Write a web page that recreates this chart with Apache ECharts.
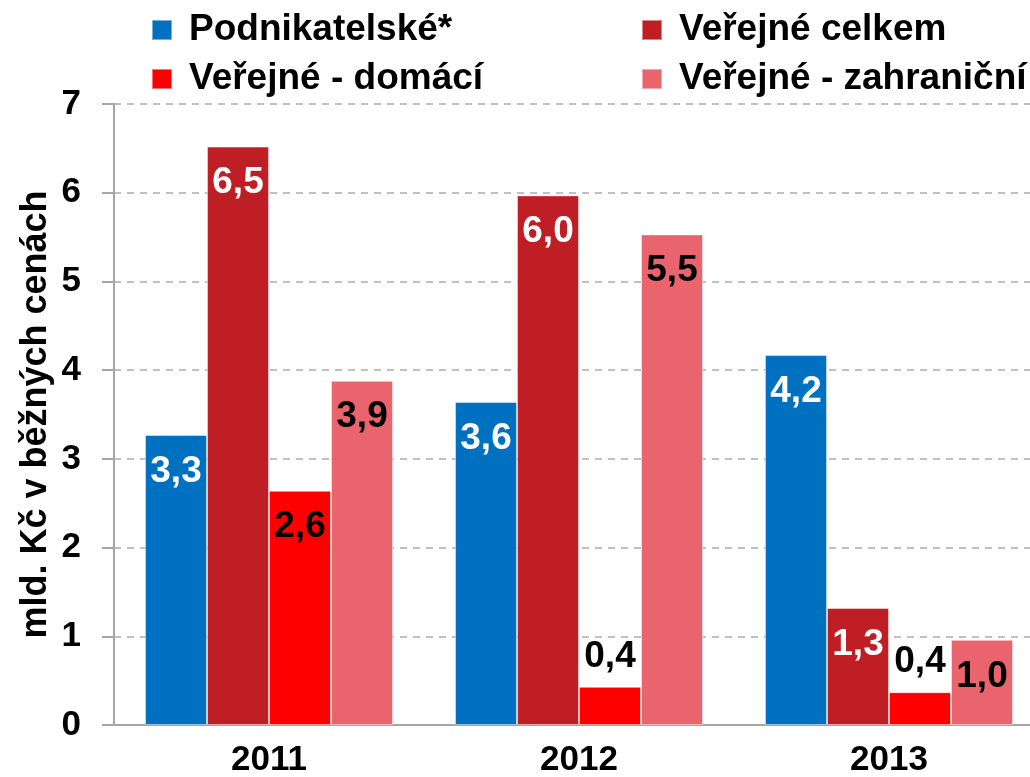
<!DOCTYPE html>
<html>
<head>
<meta charset="utf-8">
<script src="https://cdn.jsdelivr.net/npm/echarts@6/dist/echarts.min.js"></script>
<style>
  html, body { margin: 0; padding: 0; background: #fff; }
  #chart { width: 1030px; height: 777px; }
</style>
</head>
<body>
<div id="chart"></div>
<script>
  // data
  let years = ['2011', '2012', '2013'];
  let seriesNames = ['Podnikatelské*', 'Veřejné celkem', 'Veřejné - domácí', 'Veřejné - zahraniční'];
  let podnikatelske = [3.27, 3.64, 4.17];
  let verejneCelkem = [6.52, 5.97, 1.32];
  let verejneDomaci = [2.64, 0.43, 0.37];
  let verejneZahranicni = [3.88, 5.53, 0.96];
  let yTicks = [0, 1, 2, 3, 4, 5, 6, 7];

  let colors = ['#0070C0', '#BE1E24', '#FF0000', '#E9646C'];
  let labelColors = ['#fff', '#fff', '#000', '#000'];
  let font = '"Liberation Sans", Arial, sans-serif';

  let myChart = echarts.init(document.getElementById('chart'));

  function buildSeries(name, values, idx) {
    return {
      name: name,
      type: 'bar',
      barGap: 0,
      barCategoryGap: '20%',
      itemStyle: {
        color: colors[idx],
        borderColor: 'rgba(255,255,255,0.45)',
        borderWidth: 1
      },
      data: values.map(v => {
        let small = v < 0.5;
        return {
          value: v,
          label: {
            show: true,
            position: small ? 'top' : 'insideTop',
            distance: small ? 12 : 18,
            color: small ? '#000' : labelColors[idx],
            fontFamily: font,
            fontWeight: 'bold',
            fontSize: 37,
            formatter: p => p.value.toFixed(1).replace('.', ',')
          }
        };
      })
    };
  }

  function legendAt(name, left, top) {
    return {
      data: [name],
      left: left,
      top: top,
      orient: 'horizontal',
      itemWidth: 20,
      itemHeight: 20,
      icon: 'rect',
      selectedMode: false,
      textStyle: {
        fontFamily: font,
        fontWeight: 'bold',
        fontSize: 37,
        color: '#000',
        lineHeight: 38,
        padding: [0, 0, 0, 12]
      }
    };
  }

  let option = {
    animation: false,
    backgroundColor: '#fff',
    legend: [
      legendAt(seriesNames[0], 146, 6),
      legendAt(seriesNames[1], 636, 6),
      legendAt(seriesNames[2], 146, 55),
      legendAt(seriesNames[3], 636, 55)
    ],
    grid: {
      left: 114,
      right: -14,
      top: 104,
      bottom: 52,
      outerBoundsMode: 'none'
    },
    xAxis: {
      type: 'category',
      data: years,
      axisLine: { lineStyle: { color: '#A6A6A6', width: 2 } },
      axisTick: { show: false },
      axisLabel: {
        fontFamily: font,
        fontWeight: 'bold',
        fontSize: 35,
        color: '#000',
        margin: 18
      }
    },
    yAxis: {
      type: 'value',
      min: yTicks[0],
      max: yTicks[yTicks.length - 1],
      interval: 1,
      name: 'mld. Kč v běžných cenách',
      nameLocation: 'middle',
      nameGap: 60,
      nameMoveOverlap: false,
      nameTextStyle: {
        fontFamily: font,
        fontWeight: 'bold',
        fontSize: 36,
        color: '#000'
      },
      axisLine: { show: true, lineStyle: { color: '#A6A6A6', width: 2 } },
      axisTick: { show: true, length: 12, lineStyle: { color: '#A6A6A6', width: 2 } },
      axisLabel: {
        fontFamily: font,
        fontWeight: 'bold',
        fontSize: 35,
        color: '#000',
        margin: 33
      },
      splitLine: {
        lineStyle: { color: '#C0C0C0', width: 2, type: [7, 6] }
      }
    },
    series: [
      buildSeries(seriesNames[0], podnikatelske, 0),
      buildSeries(seriesNames[1], verejneCelkem, 1),
      buildSeries(seriesNames[2], verejneDomaci, 2),
      buildSeries(seriesNames[3], verejneZahranicni, 3)
    ]
  };
  myChart.setOption(option);
</script>
</body>
</html>
